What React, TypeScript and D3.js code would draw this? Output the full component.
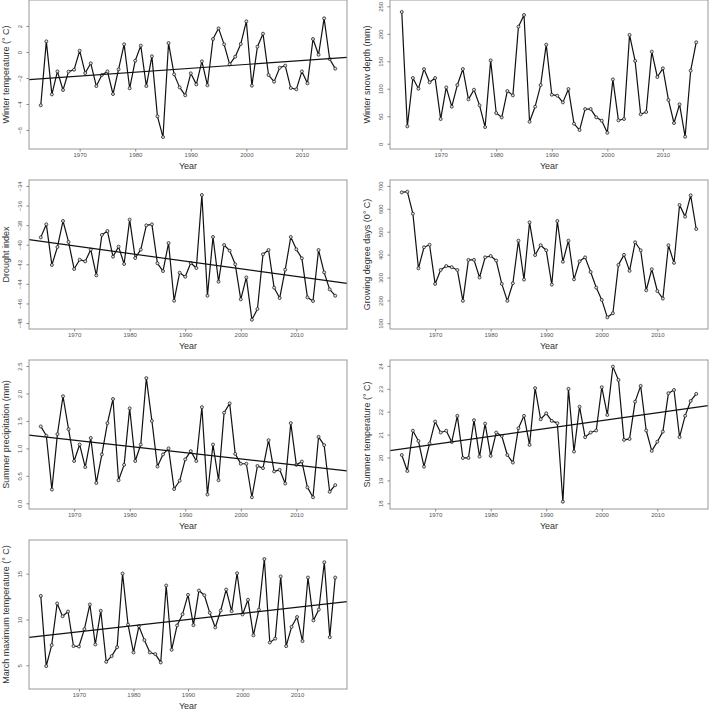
import { useRef, useEffect } from 'react'
import * as d3 from 'd3'

// values
const winterTemp = [-4.1, 0.82, -3.26, -1.49, -2.92, -1.51, -1.36, 0.1, -1.62, -0.87, -2.62, -1.77, -1.49, -3.23, -1.33, 0.59, -2.79, -0.67, 0.49, -2.62, -0.33, -4.95, -6.54, 0.69, -1.72, -2.72, -3.33, -1.64, -2.49, -0.72, -2.56, 1.0, 1.82, 0.59, -0.95, -0.36, 0.62, 2.36, -2.59, 0.41, 1.41, -1.77, -2.28, -1.21, -1.05, -2.77, -2.87, -1.49, -2.41, 1.0, -0.21, 2.59, -0.54, -1.28]
const winterTempTrend = [-2.13, -0.41]

const snowDepth = [239.7, 31.6, 119.5, 100.1, 135.9, 111.7, 119.5, 44.9, 102.5, 67.4, 106.8, 135.9, 80.7, 98.3, 69.8, 30.3, 151.7, 55.8, 47.9, 95.9, 88, 213, 234.2, 40, 67.4, 106.8, 180.2, 89.2, 87.4, 75.2, 99.5, 36.4, 24.9, 63.1, 63.1, 48, 41.9, 20, 117, 42.5, 45, 198, 150.6, 53.5, 57.7, 167.5, 121.4, 137.2, 79.6, 37.7, 71.7, 12.8, 132.9, 184.6]

const droughtIndex = [-39.25, -37.92, -42.07, -40.23, -37.58, -39.72, -42.48, -41.53, -41.7, -40.5, -43.13, -39.0, -38.6, -41.22, -40.2, -41.97, -37.44, -41.36, -40.5, -38.02, -37.92, -41.9, -42.69, -39.83, -45.72, -42.86, -43.27, -41.87, -42.38, -34.92, -45.21, -39.21, -43.78, -40.03, -40.61, -42.0, -45.58, -43.34, -47.66, -46.57, -40.98, -40.54, -44.39, -45.45, -42.55, -39.21, -40.47, -41.39, -45.38, -45.75, -40.54, -42.82, -44.56, -45.21]
const droughtTrend = [-39.49, -43.95]

const degreeDays = [672, 675, 579, 340, 432, 443, 272, 333, 350, 345, 333, 198, 377, 377, 300, 388, 394, 374, 272, 198, 275, 461, 291, 541, 398, 441, 419, 269, 547, 369, 461, 292, 371, 388, 324, 256, 202, 126, 144, 355, 399, 329, 454, 419, 244, 336, 241, 208, 441, 364, 617, 566, 659, 512]

const summerPrecip = [1.4, 1.23, 0.25, 1.26, 1.95, 1.35, 0.77, 1.07, 0.66, 1.19, 0.37, 0.89, 1.46, 1.9, 0.42, 0.7, 1.73, 0.77, 1.07, 2.28, 1.5, 0.67, 0.89, 1.0, 0.26, 0.41, 0.8, 0.95, 0.77, 1.75, 0.16, 1.07, 0.42, 1.65, 1.82, 0.9, 0.72, 0.72, 0.11, 0.68, 0.64, 1.15, 0.58, 0.61, 0.36, 1.46, 0.7, 0.76, 0.29, 0.11, 1.21, 1.06, 0.21, 0.33]
const summerPrecipTrend = [1.24, 0.59]

const summerTemp = [20.11, 19.41, 21.17, 20.72, 19.6, 20.61, 21.57, 21.09, 21.17, 20.68, 21.82, 19.98, 19.98, 21.63, 20.04, 21.48, 20.07, 21.09, 20.94, 20.11, 19.78, 21.28, 21.82, 20.55, 23.03, 21.67, 21.93, 21.6, 21.5, 18.07, 23.0, 20.26, 22.22, 20.89, 21.09, 21.18, 23.07, 21.86, 23.97, 23.39, 20.77, 20.81, 22.44, 23.13, 21.18, 20.29, 20.69, 21.13, 22.81, 22.95, 20.89, 21.82, 22.47, 22.78]
const summerTempTrend = [20.3, 22.27]

const marchMax = [12.58, 4.91, 7.2, 11.75, 10.36, 10.87, 7.1, 7.05, 8.95, 11.64, 7.27, 10.95, 5.38, 6.0, 6.98, 15.02, 9.45, 6.4, 9.27, 7.75, 6.4, 6.22, 5.31, 13.71, 6.69, 9.35, 10.58, 12.69, 9.38, 13.16, 12.65, 10.73, 9.13, 10.98, 13.27, 10.91, 15.05, 10.55, 12.15, 8.27, 11.07, 16.6, 7.49, 7.91, 14.7, 7.09, 9.2, 10.27, 7.64, 14.58, 9.9, 11.09, 16.25, 8.07, 14.58]
const marchMaxTrend = [8.04, 11.96]

const xTicks = [1970, 1980, 1990, 2000, 2010]

const panels = [
  { title: 'Winter temperature (° C)', first: 1963, values: winterTemp, trend: winterTempTrend, yDomain: [-7.46, 4.0], yTicks: [-6, -4, -2, 0, 2], col: 0, row: 0 },
  { title: 'Winter snow depth (mm)', first: 1963, values: snowDepth, trend: null, yDomain: [-9.6, 261.5], yTicks: [0, 50, 100, 150, 200, 250], col: 1, row: 0 },
  { title: 'Drought index', first: 1964, values: droughtIndex, trend: droughtTrend, yDomain: [-48.61, -33.39], yTicks: [-48, -46, -44, -42, -40, -38, -36, -34], col: 0, row: 1 },
  { title: 'Growing degree days (0° C)', first: 1964, values: degreeDays, trend: null, yDomain: [75, 726], yTicks: [100, 200, 300, 400, 500, 600, 700], col: 1, row: 1 },
  { title: 'Summer precipitation (mm)', first: 1964, values: summerPrecip, trend: summerPrecipTrend, yDomain: [-0.104, 2.61], yTicks: [0, 0.5, 1, 1.5, 2, 2.5], fmt: '.1f', col: 0, row: 2 },
  { title: 'Summer temperature (° C)', first: 1964, values: summerTemp, trend: summerTempTrend, yDomain: [17.75, 24.26], yTicks: [18, 19, 20, 21, 22, 23, 24], col: 1, row: 2 },
  { title: 'March maximum temperature (° C)', first: 1963, values: marchMax, trend: marchMaxTrend, yDomain: [2.41, 18.68], yTicks: [5, 10, 15], col: 0, row: 3 },
]

const colLeft = [29, 390]
const rowTop = [0, 180, 360, 540]
const boxW = 318
const boxH = 149
const font = '"Liberation Sans", Arial, sans-serif'

export default function App() {
  const svgRef = useRef(null)

  useEffect(() => {
    const svg = d3.select(svgRef.current)
    svg.selectAll('*').remove()

    panels.forEach(p => {
      const left = colLeft[p.col]
      const top = rowTop[p.row]
      const g = svg.append('g').attr('transform', `translate(${left},${top})`)

      const years = p.values.map((_, i) => p.first + i)
      const span = years[years.length - 1] - years[0]
      const x = d3.scaleLinear()
        .domain([years[0] - 0.04 * span, years[years.length - 1] + 0.04 * span])
        .range([0, boxW])
      const y = d3.scaleLinear().domain(p.yDomain).range([boxH, 0])

      // serie
      const line = d3.line<number>().x((_, i) => x(years[i])).y(d => y(d))
      g.append('path')
        .attr('d', line(p.values))
        .attr('fill', 'none')
        .attr('stroke', '#111')
        .attr('stroke-width', 1.2)
        .attr('stroke-linejoin', 'round')

      g.append('g').selectAll('circle')
        .data(p.values)
        .join('circle')
        .attr('cx', (_, i) => x(years[i]))
        .attr('cy', d => y(d))
        .attr('r', 1.5)
        .attr('fill', '#ddd')
        .attr('stroke', '#222')
        .attr('stroke-width', 0.8)

      // trendiviiva
      if (p.trend) {
        const [x0, x1] = x.domain()
        g.append('line')
          .attr('x1', x(x0)).attr('y1', y(p.trend[0]))
          .attr('x2', x(x1)).attr('y2', y(p.trend[1]))
          .attr('stroke', '#111')
          .attr('stroke-width', 1.2)
      }

      // laatikko
      g.append('rect')
        .attr('x', 0).attr('y', 0)
        .attr('width', boxW).attr('height', boxH)
        .attr('fill', 'none')
        .attr('stroke', '#999')
        .attr('stroke-width', 1)

      // x-akseli
      g.append('g')
        .attr('transform', `translate(0,${boxH})`)
        .call(d3.axisBottom(x).tickValues(xTicks).tickFormat(d3.format('d')).tickSize(2.5).tickPadding(1.5))
        .call(a => a.select('.domain').remove())
        .call(a => a.selectAll('.tick line').attr('stroke', '#888'))
        .selectAll('text')
          .attr('fill', '#555')
          .style('font-family', font)
          .style('font-size', '6px')

      // y-akseli, pystyyn käännetyt tekstit
      const ya = g.append('g')
        .call(d3.axisLeft(y).tickValues(p.yTicks).tickSize(2.5).tickFormat(d3.format(p.fmt || 'd')))
        .call(a => a.select('.domain').remove())
        .call(a => a.selectAll('.tick line').attr('stroke', '#888'))
      ya.selectAll('text')
        .attr('x', null).attr('dy', null)
        .attr('transform', 'translate(-7.5,0) rotate(-90)')
        .attr('text-anchor', 'middle')
        .attr('fill', '#555')
        .style('font-family', font)
        .style('font-size', '6px')

      g.append('text')
        .text('Year')
        .attr('x', boxW / 2)
        .attr('y', boxH + 20)
        .attr('text-anchor', 'middle')
        .attr('fill', '#333')
        .style('font-family', font)
        .style('font-size', '9px')

      g.append('text')
        .text(p.title)
        .attr('transform', `translate(-20.5,${boxH / 2}) rotate(-90)`)
        .attr('text-anchor', 'middle')
        .attr('fill', '#333')
        .style('font-family', font)
        .style('font-size', '9px')
    })
  }, [])

  return (
    <svg
      ref={svgRef}
      width={709}
      height={710}
      style={{ position: 'absolute', left: 0, top: 0, background: '#fff' }}
    />
  )
}
